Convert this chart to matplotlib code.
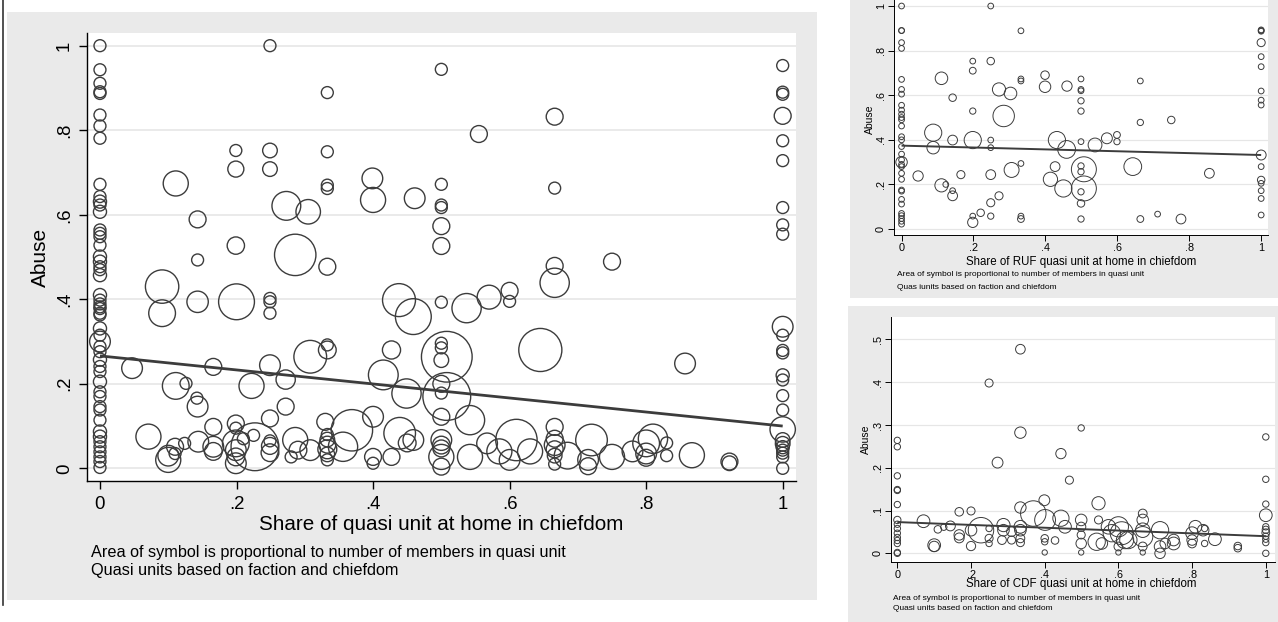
import matplotlib
matplotlib.use('Agg')
import matplotlib.pyplot as plt
from matplotlib.patches import Rectangle
from matplotlib.lines import Line2D

W, H = 1278, 622
plt.rcParams['font.family'] = ['Liberation Sans', 'DejaVu Sans']

# ---- main panel: all quasi units (x, y, relative weight) ----
main_x = ([0] * 51 + [1] * 25 +
          [0.249, 0.333, 0.199, 0.199, 0.249, 0.249, 0.333, 0.333, 0.333, 0.111, 0.143, 0.199, 0.143,
           0.273, 0.305, 0.286, 0.333, 0.399, 0.4, 0.461, 0.091, 0.091, 0.143, 0.2, 0.249, 0.249, 0.249,
           0.438, 0.5, 0.555, 0.666, 0.5, 0.5, 0.5, 0.5, 0.5, 0.666, 0.666, 0.666, 0.75, 0.5, 0.537,
           0.57, 0.6, 0.6, 0.459] +
          [0.047, 0.166, 0.111, 0.126, 0.142, 0.143, 0.222, 0.249, 0.272, 0.308, 0.333, 0.333, 0.272,
           0.249, 0.427, 0.415, 0.449, 0.508, 0.5, 0.5, 0.5, 0.5, 0.5, 0.508, 0.542, 0.5, 0.645, 0.857] +
          [0.071, 0.1, 0.1, 0.11, 0.11, 0.124, 0.144, 0.166, 0.166, 0.166, 0.199, 0.199, 0.199, 0.199,
           0.199, 0.199, 0.227, 0.21, 0.225, 0.249, 0.249, 0.249, 0.286, 0.29, 0.28, 0.308, 0.33, 0.333,
           0.333, 0.333, 0.333, 0.333, 0.333, 0.369, 0.356, 0.4, 0.4, 0.4, 0.427, 0.439, 0.45, 0.459,
           0.5, 0.5, 0.5, 0.5, 0.5, 0.542, 0.567, 0.585, 0.6, 0.61, 0.63, 0.666, 0.666, 0.666, 0.666,
           0.666, 0.666, 0.685, 0.72, 0.715, 0.715, 0.75, 0.78, 0.8, 0.81, 0.8, 0.8, 0.83, 0.83, 0.867,
           0.922, 0.922])
main_y = ([1.0, 0.943, 0.911, 0.891, 0.887, 0.836, 0.81, 0.781, 0.672, 0.643, 0.631, 0.623, 0.607,
           0.564, 0.556, 0.548, 0.528, 0.501, 0.489, 0.477, 0.47, 0.457, 0.41, 0.398, 0.389, 0.378,
           0.367, 0.382, 0.363, 0.331, 0.315, 0.30, 0.288, 0.276, 0.257, 0.241, 0.229, 0.205, 0.181,
           0.17, 0.146, 0.138, 0.114, 0.087, 0.075, 0.063, 0.051, 0.039, 0.027, 0.016, 0.002] +
          [0.953, 0.89, 0.885, 0.834, 0.775, 0.728, 0.617, 0.576, 0.554, 0.335, 0.315, 0.279, 0.273,
           0.22, 0.209, 0.172, 0.138, 0.092, 0.067, 0.058, 0.05, 0.043, 0.036, 0.027, 0.0] +
          [1.0, 0.889, 0.752, 0.708, 0.752, 0.708, 0.749, 0.670, 0.662, 0.674, 0.589, 0.527, 0.493,
           0.621, 0.607, 0.505, 0.477, 0.686, 0.635, 0.639, 0.43, 0.367, 0.394, 0.394, 0.402, 0.394,
           0.367, 0.398, 0.944, 0.791, 0.832, 0.672, 0.623, 0.617, 0.573, 0.526, 0.663, 0.479, 0.439,
           0.489, 0.393, 0.379, 0.405, 0.42, 0.395, 0.359] +
          [0.237, 0.24, 0.195, 0.201, 0.166, 0.146, 0.195, 0.244, 0.21, 0.264, 0.28, 0.292, 0.146,
           0.118, 0.28, 0.221, 0.177, 0.264, 0.296, 0.285, 0.256, 0.2, 0.178, 0.17, 0.114, 0.122, 0.28,
           0.248] +
          [0.075, 0.02, 0.03, 0.035, 0.051, 0.059, 0.063, 0.098, 0.051, 0.04, 0.106, 0.095, 0.059,
           0.043, 0.027, 0.012, 0.051, 0.07, 0.078, 0.065, 0.053, 0.037, 0.067, 0.043, 0.027, 0.043,
           0.11, 0.08, 0.068, 0.056, 0.045, 0.033, 0.02, 0.09, 0.051, 0.122, 0.027, 0.012, 0.027, 0.083,
           0.06, 0.067, 0.067, 0.055, 0.047, 0.027, 0.004, 0.027, 0.059, 0.04, 0.02, 0.067, 0.04, 0.098,
           0.07, 0.055, 0.045, 0.03, 0.01, 0.03, 0.067, 0.02, 0.005, 0.027, 0.04, 0.059, 0.07, 0.035,
           0.025, 0.06, 0.03, 0.031, 0.016, 0.012])
main_w = ([1, 1, 1, 1, 1, 1, 1, 1, 1, 1, 1.2, 1, 1.2, 1, 1, 1, 1, 1.2, 1.2, 1, 1, 1.2, 1.2, 1, 1, 1,
           1, 1, 1, 1.2, 1, 3, 1, 1, 1.2, 1, 1, 1.2, 1, 1, 1, 1, 1, 1.2, 1.2, 1, 1, 1, 1, 1, 1] +
          [1, 1, 1, 2, 1, 1, 1, 1, 1, 3, 1, 1, 1, 1.2, 1, 1, 1, 4.5, 1.5, 1.5, 1.2, 1, 1, 1, 1] +
          [1, 1, 1, 1.8, 1.5, 1.5, 1, 1, 1, 4.4, 2, 2.1, 1, 5.8, 4.2, 12, 2, 3, 4.4, 3, 7.8, 5, 3.2,
           9, 1, 1, 1, 7.6, 1, 2, 2, 1, 1, 1, 2, 2, 1, 2, 6, 2, 1, 6, 4, 2, 1, 9] +
          [3, 2, 5, 1, 1, 3, 4.4, 3, 2.6, 7.5, 2.2, 1, 2, 2, 2.3, 6.2, 6, 18, 1, 1, 1.5, 2, 1, 16, 6,
           2, 13, 3] +
          [4.4, 4.4, 3, 1, 2, 1, 3, 2, 3, 2.2, 2, 1, 5, 3, 2.2, 3, 16, 1, 1, 1, 2, 2.2, 4.4, 2.2, 1, 3,
           2, 1, 1.5, 2, 2.5, 1.5, 1, 12, 6, 3, 2, 1, 2, 7, 2.2, 3, 3, 2.2, 2, 4.4, 2, 4.4, 3, 4.4, 3,
           12, 4.4, 2, 2, 3, 2, 1.5, 1, 5, 7, 3, 2, 4.4, 3, 5, 6, 3, 2, 1, 1, 4.4, 2, 1.5])
main_fit = [0.266, 0.100]

# ---- RUF quasi units ----
ruf_x = ([0] * 33 + [1] * 16 +
         [0.248, 0.332, 0.198, 0.198, 0.248, 0.111, 0.332, 0.332, 0.399, 0.399, 0.271, 0.303, 0.46,
          0.499, 0.499, 0.499, 0.499, 0.499, 0.664, 0.142, 0.198, 0.284, 0.664, 0.75, 0.088, 0.088,
          0.142, 0.198, 0.248, 0.248, 0.432, 0.459, 0.499, 0.538, 0.571, 0.599, 0.599, 0.306, 0.332,
          0.427, 0.414, 0.45, 0.507, 0.499, 0.499, 0.507, 0.499, 0.499, 0.499, 0.643, 0.856, 0.046,
          0.165, 0.248, 0.111, 0.123, 0.142, 0.142, 0.271, 0.248, 0.198, 0.198, 0.22, 0.248, 0.332,
          0.332, 0.664, 0.712, 0.777])
ruf_y = ([1.0, 0.89, 0.89, 0.836, 0.81, 0.671, 0.626, 0.605, 0.555, 0.533, 0.515, 0.5, 0.49, 0.462,
          0.414, 0.4, 0.37, 0.336, 0.31, 0.3, 0.29, 0.28, 0.25, 0.223, 0.175, 0.17, 0.133, 0.112,
          0.07, 0.06, 0.047, 0.035, 0.022] +
         [0.893, 0.89, 0.887, 0.836, 0.773, 0.728, 0.619, 0.578, 0.556, 0.332, 0.28, 0.22, 0.205,
          0.172, 0.137, 0.063] +
         [1.0, 0.889, 0.753, 0.71, 0.753, 0.676, 0.673, 0.664, 0.69, 0.638, 0.626, 0.608, 0.641,
          0.673, 0.626, 0.62, 0.575, 0.529, 0.664, 0.589, 0.529, 0.507, 0.478, 0.489, 0.432, 0.365,
          0.399, 0.399, 0.399, 0.365, 0.399, 0.357, 0.392, 0.377, 0.407, 0.422, 0.392, 0.265, 0.294,
          0.28, 0.223, 0.182, 0.268, 0.283, 0.257, 0.182, 0.167, 0.115, 0.045, 0.28, 0.25, 0.238,
          0.244, 0.244, 0.196, 0.2, 0.172, 0.149, 0.149, 0.118, 0.058, 0.03, 0.073, 0.058, 0.058,
          0.045, 0.045, 0.067, 0.045])
ruf_w = ([1, 1, 1, 1, 1, 1, 1, 1, 1, 1, 1, 1, 1, 1, 1, 1, 1, 1, 1, 4, 1, 1, 1, 1, 1, 1, 1, 1, 1,
          1, 1, 1, 1] +
         [1, 1, 1, 2, 1, 1, 1, 1, 1, 3, 1, 1.7, 1, 1, 1, 1] +
         [1, 1, 1, 1.4, 1.7, 4.8, 1, 1, 2.2, 4, 5.3, 4.8, 3.2, 1, 1, 1, 1.2, 1.2, 1, 1.7, 1.2, 14, 1.2,
          1.7, 9, 4.8, 2.9, 9, 1, 1, 9, 9.6, 1, 5.8, 3.6, 1.4, 1.2, 6.8, 1, 2.9, 6.2, 9, 19, 1.2, 1.2,
          19, 1.2, 1.7, 1.2, 9.6, 2.9, 3.2, 2, 2.9, 5.3, 1, 1, 2.9, 2, 2, 1, 3.2, 1.7, 1.2, 1, 1.4,
          1.4, 1, 2.9])
ruf_fit = [0.374, 0.332]

# ---- CDF quasi units ----
cdf_x = ([0] * 15 + [1] * 11 +
         [0.334, 0.249, 0.499, 0.334, 0.272, 0.444, 0.467, 0.399, 0.334, 0.369, 0.546, 0.168, 0.2,
          0.071, 0.11, 0.126, 0.144, 0.1, 0.1, 0.168, 0.168, 0.2, 0.2, 0.227, 0.249, 0.249, 0.249,
          0.288, 0.288, 0.284, 0.31, 0.31, 0.334, 0.334, 0.334, 0.334, 0.4, 0.4, 0.4, 0.401, 0.428,
          0.444, 0.455, 0.499, 0.499, 0.499, 0.499, 0.499, 0.546, 0.541, 0.555, 0.573, 0.582, 0.6,
          0.609, 0.618, 0.6, 0.6, 0.627, 0.666, 0.666, 0.666, 0.666, 0.666, 0.666, 0.713, 0.713, 0.713,
          0.727, 0.75, 0.75, 0.8, 0.8, 0.8, 0.809, 0.83, 0.834, 0.834, 0.862, 0.924, 0.924])
cdf_y = ([0.264, 0.249, 0.181, 0.149, 0.147, 0.114, 0.078, 0.068, 0.058, 0.047, 0.037, 0.03, 0.023,
          0.002, 0.0] +
         [0.272, 0.173, 0.115, 0.089, 0.062, 0.055, 0.048, 0.04, 0.033, 0.025, 0.0] +
         [0.477, 0.398, 0.293, 0.282, 0.212, 0.233, 0.171, 0.124, 0.107, 0.093, 0.117, 0.097, 0.099,
          0.075, 0.056, 0.061, 0.064, 0.019, 0.016, 0.043, 0.036, 0.017, 0.054, 0.054, 0.058, 0.035,
          0.023, 0.066, 0.054, 0.031, 0.051, 0.031, 0.062, 0.054, 0.035, 0.025, 0.035, 0.027, 0.002,
          0.078, 0.03, 0.082, 0.062, 0.078, 0.062, 0.043, 0.023, 0.002, 0.078, 0.027, 0.023, 0.062,
          0.047, 0.062, 0.047, 0.031, 0.016, 0.002, 0.031, 0.093, 0.078, 0.054, 0.039, 0.016, 0.002,
          0.054, 0.016, 0.0, 0.023, 0.023, 0.031, 0.047, 0.031, 0.023, 0.062, 0.054, 0.058, 0.023,
          0.033, 0.017, 0.012])
cdf_w = ([1, 1, 1, 1, 1, 1, 1.3, 1, 1, 1, 1, 1, 1, 1, 1] +
         [1, 1, 1, 4, 1, 1.3, 1.5, 1, 1, 1, 1] +
         [2.3, 1.6, 1, 3.2, 2.9, 2.6, 1.6, 2.9, 3.2, 16, 4.3, 1.8, 1.6, 4, 1.4, 1, 2.4, 4, 2.7, 2.7,
          2.4, 2.1, 3.3, 16, 1, 1.6, 1, 4.3, 3.3, 1.9, 2.4, 1.6, 4, 3.3, 1.9, 1.6, 1.4, 1, 0.7, 10.7,
          1.4, 6.5, 4, 3.3, 2.1, 1.6, 2.7, 0.7, 1.6, 7.4, 3.3, 5.2, 7.4, 10, 13, 7.4, 1.9, 0.7, 7.4,
          1.9, 3.3, 5.2, 10, 1.9, 0.7, 7.4, 3.3, 2.7, 2.7, 4, 3.3, 4, 2.7, 1.9, 4, 3.3, 1, 1, 4, 1.4,
          1.4])
cdf_fit = [0.073, 0.040]

EDGE = '#3c3c3c'
BG = '#eaeaea'


def px_rect(x0, y0, x1, y1):
    # pixel box (top-left origin) -> figure fraction
    return [x0 / W, 1 - y1 / H, (x1 - x0) / W, (y1 - y0) / H]


def fig_text(fig, x, y, s, **kw):
    fig.text(x / W, 1 - y / H, s, **kw)


def panel(fig, rect, xs, ys, ws, fit, xlim, ylim, yticks, ylabs, s0, lw, tick_fs, tick_len, line_w,
          ypad, xpad):
    ax = fig.add_axes(px_rect(*rect))
    ax.set_facecolor('white')
    ax.scatter(xs, ys, s=[s0 * w for w in ws], facecolors='none', edgecolors=EDGE,
               linewidths=lw, zorder=3, clip_on=False)
    ax.plot([0, 1], fit, color=EDGE, lw=line_w, zorder=4, solid_capstyle='butt')
    ax.set_xlim(*xlim)
    ax.set_ylim(*ylim)
    ax.set_yticks(yticks)
    ax.set_yticklabels(ylabs)
    ax.set_xticks([0, 0.2, 0.4, 0.6, 0.8, 1])
    ax.set_xticklabels(['0', '.2', '.4', '.6', '.8', '1'])
    ax.grid(axis='y', color='#e6e6e6', lw=line_w * 0.6, zorder=0)
    ax.set_axisbelow(True)
    for side in ['top', 'right']:
        ax.spines[side].set_visible(False)
    for side in ['left', 'bottom']:
        ax.spines[side].set_linewidth(lw)
        ax.spines[side].set_color('black')
    ax.tick_params(axis='both', direction='out', length=tick_len, width=lw, colors='black',
                   labelsize=tick_fs)
    ax.tick_params(axis='y', labelrotation=90, pad=ypad)
    ax.tick_params(axis='x', pad=xpad)
    for t in ax.get_yticklabels():
        t.set_va('center')
    return ax


fig = plt.figure(figsize=(W / 100, H / 100), dpi=100)
fig.patch.set_facecolor('white')

# graph regions
for x0, y0, x1, y1 in [(7, 12, 817, 600), (850, 0, 1278, 298), (848, 306, 1278, 622)]:
    fig.add_artist(Rectangle((x0 / W, 1 - y1 / H), (x1 - x0) / W, (y1 - y0) / H,
                             transform=fig.transFigure, facecolor=BG, edgecolor='none', zorder=0))
fig.add_artist(Line2D([2.5 / W, 2.5 / W], [1, 1 - 605 / H], transform=fig.transFigure,
                      color='#333333', lw=1.2))

# main panel
panel(fig, (87, 33, 796, 481), main_x, main_y, main_w, main_fit, (-0.019, 1.0195), (-0.030, 1.030),
      [0, 0.2, 0.4, 0.6, 0.8, 1], ['0', '.2', '.4', '.6', '.8', '1'],
      74, 1.0, 13.4, 6, 2.0, 4, 5)
fig_text(fig, 40, 257, 'Abuse', rotation=90, ha='center', va='center', fontsize=15)
fig_text(fig, 441.5, 525, 'Share of quasi unit at home in chiefdom', ha='center', va='center',
         fontsize=14.85)
fig_text(fig, 91, 552, 'Area of symbol is proportional to number of members in quasi unit',
         ha='left', va='center', fontsize=11.7)
fig_text(fig, 91, 571, 'Quasi units based on faction and chiefdom', ha='left', va='center',
         fontsize=11.7)

# RUF panel
panel(fig, (894, 0, 1268, 235.3), ruf_x, ruf_y, ruf_w, ruf_fit, (-0.021, 1.019), (-0.028, 1.027),
      [0, 0.2, 0.4, 0.6, 0.8, 1], ['0', '.2', '.4', '.6', '.8', '1'],
      17, 0.7, 7.8, 4.3, 1.4, 1.5, 1.5)
fig_text(fig, 870, 119, 'Abuse', rotation=90, ha='center', va='center', fontsize=7.5)
fig_text(fig, 1081, 261.7, 'Share of RUF quasi unit at home in chiefdom', ha='center', va='center',
         fontsize=8.3)
fig_text(fig, 896.7, 274.3, 'Area of symbol is proportional to number of members in quasi unit',
         ha='left', va='center', fontsize=6)
fig_text(fig, 896.7, 287.3, 'Quas iunits based on faction and chiefdom', ha='left', va='center',
         fontsize=6)

# CDF panel
panel(fig, (890.7, 316.7, 1275, 561.7), cdf_x, cdf_y, cdf_w, cdf_fit, (-0.018, 1.025), (-0.0196, 0.553),
      [0, 0.1, 0.2, 0.3, 0.4, 0.5], ['0', '.1', '.2', '.3', '.4', '.5'],
      21, 0.7, 7.8, 4.3, 1.4, 1.5, 1.5)
fig_text(fig, 865.8, 439, 'Abuse', rotation=90, ha='center', va='center', fontsize=7.5)
fig_text(fig, 1081.4, 584.3, 'Share of CDF quasi unit at home in chiefdom', ha='center', va='center',
         fontsize=8.3)
fig_text(fig, 892.7, 599, 'Area of symbol is proportional to number of members in quasi unit',
         ha='left', va='center', fontsize=6)
fig_text(fig, 892.7, 609, 'Quasi units based on faction and chiefdom', ha='left', va='center',
         fontsize=6)

fig.savefig('out.png', dpi=100)
